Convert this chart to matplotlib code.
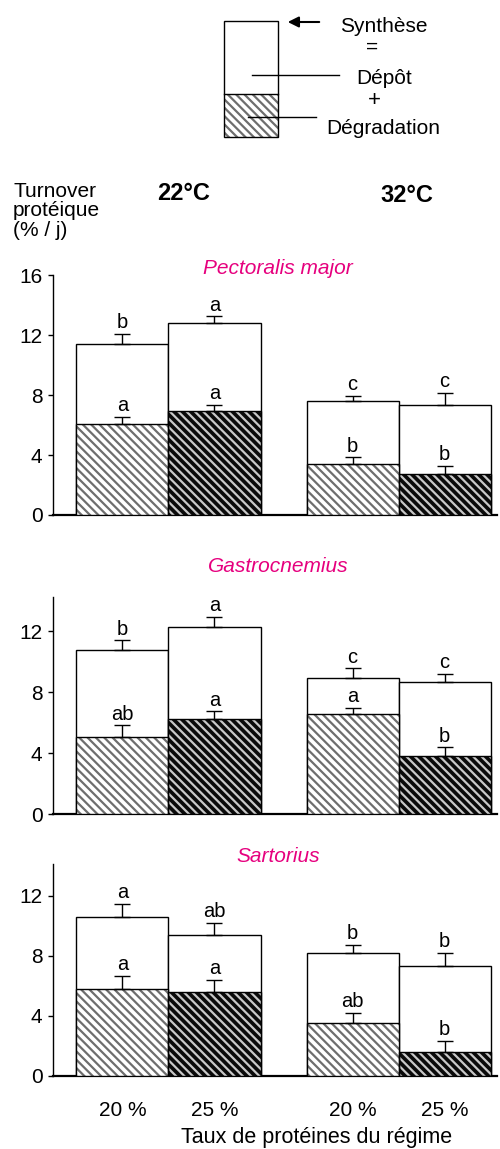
import matplotlib
matplotlib.use('Agg')
import matplotlib.pyplot as plt
from matplotlib.patches import Rectangle

plt.rcParams['font.family'] = ['Liberation Sans', 'DejaVu Sans']
plt.rcParams['hatch.linewidth'] = 1.6

# --- data (% / j) ---
muscles = ['Pectoralis major', 'Gastrocnemius', 'Sartorius']
diet_labels = ['20 %', '25 %', '20 %', '25 %']
temp_labels = ['22°C', '32°C']

synthese_pm = [11.4, 12.8, 7.6, 7.35]
synthese_pm_err = [0.7, 0.45, 0.35, 0.8]
degradation_pm = [6.05, 6.95, 3.4, 2.75]
degradation_pm_err = [0.5, 0.4, 0.45, 0.55]
letters_synth_pm = ['b', 'a', 'c', 'c']
letters_degr_pm = ['a', 'a', 'b', 'b']

synthese_gas = [10.75, 12.25, 8.95, 8.7]
synthese_gas_err = [0.65, 0.7, 0.63, 0.52]
degradation_gas = [5.1, 6.25, 6.6, 3.85]
degradation_gas_err = [0.75, 0.5, 0.4, 0.55]
letters_synth_gas = ['b', 'a', 'c', 'c']
letters_degr_gas = ['ab', 'a', 'a', 'b']

synthese_sar = [10.55, 9.4, 8.2, 7.3]
synthese_sar_err = [0.9, 0.8, 0.5, 0.9]
degradation_sar = [5.75, 5.6, 3.5, 1.55]
degradation_sar_err = [0.9, 0.8, 0.7, 0.75]
letters_synth_sar = ['a', 'ab', 'b', 'b']
letters_degr_sar = ['a', 'a', 'ab', 'b']

panels = [
    (synthese_pm, synthese_pm_err, degradation_pm, degradation_pm_err, letters_synth_pm, letters_degr_pm),
    (synthese_gas, synthese_gas_err, degradation_gas, degradation_gas_err, letters_synth_gas, letters_degr_gas),
    (synthese_sar, synthese_sar_err, degradation_sar, degradation_sar_err, letters_synth_sar, letters_degr_sar),
]

W, H = 500, 1149
MAGENTA = '#E6007E'
HATCH = '\\\\\\\\'
x_pos = [0, 1, 2.5, 3.5]
light = dict(facecolor='white', edgecolor='#6e6e6e')
dark = dict(facecolor='#0a0a0a', edgecolor='#c8c8c8')
bar_styles = [light, dark, light, dark]


def rect_px(top, bottom):
    # axes rectangle from pixel rows of the plotting area
    return [53 / W, (H - bottom) / H, 444 / W, (bottom - top) / H]


fig = plt.figure(figsize=(W / 100, H / 100), dpi=100)

axes_specs = [(275.3, 515, 16, [0, 4, 8, 12, 16]),
              (597, 814.3, 14.25, [0, 4, 8, 12]),
              (864, 1075.5, 14.1, [0, 4, 8, 12])]

for i, (top, bottom, ymax, yticks) in enumerate(axes_specs):
    synth, synth_err, degr, degr_err, let_s, let_d = panels[i]
    ax = fig.add_axes(rect_px(top, bottom))

    ax.bar(x_pos, synth, width=1.0, color='white', edgecolor='black', linewidth=1.0, zorder=2)
    for x, d, st in zip(x_pos, degr, bar_styles):
        ax.bar(x, d, width=1.0, color=st['facecolor'], edgecolor=st['edgecolor'],
               hatch=HATCH, linewidth=0, zorder=3)
    ax.bar(x_pos, degr, width=1.0, fill=False, edgecolor='black', linewidth=1.0, zorder=4)

    zero = [0] * 4
    ax.errorbar(x_pos, synth, yerr=[zero, synth_err], fmt='none', ecolor='black',
                elinewidth=1.0, capsize=5.5, capthick=1.0, zorder=5)
    ax.errorbar(x_pos, degr, yerr=[zero, degr_err], fmt='none', ecolor='black',
                elinewidth=1.0, capsize=5.5, capthick=1.0, zorder=5)

    for x, v, e, t in zip(x_pos, synth, synth_err, let_s):
        ax.annotate(t, (x, v + e), xytext=(0, 4), textcoords='offset points',
                    ha='center', va='baseline', fontsize=14.5)
    for x, v, e, t in zip(x_pos, degr, degr_err, let_d):
        ax.annotate(t, (x, v + e), xytext=(0, 4), textcoords='offset points',
                    ha='center', va='baseline', fontsize=14.5)

    ax.set_xlim(-0.755, 4.07)
    ax.set_ylim(0, ymax)
    ax.set_yticks(yticks)
    ax.tick_params(axis='y', length=3.6, width=1.0, pad=4, labelsize=15)
    ax.spines['top'].set_visible(False)
    ax.spines['right'].set_visible(False)
    ax.spines['left'].set_linewidth(1.0)
    ax.spines['bottom'].set_linewidth(1.6)
    if i == 2:
        ax.set_xticks(x_pos)
        ax.set_xticklabels(diet_labels, fontsize=15)
        ax.tick_params(axis='x', length=0, pad=18)
    else:
        ax.set_xticks([])

# overlay in pixel coordinates for titles and the schematic legend
ov = fig.add_axes([0, 0, 1, 1], zorder=10)
ov.set_xlim(0, W)
ov.set_ylim(H, 0)
ov.axis('off')
ov.patch.set_alpha(0)

ov.add_patch(Rectangle((224, 94), 54, 43, facecolor='white', edgecolor='#6e6e6e',
                       hatch=HATCH, linewidth=0))
ov.add_patch(Rectangle((224, 21), 54, 116, fill=False, edgecolor='black', linewidth=1.0))
ov.plot([224, 278], [94, 94], color='black', lw=1.0)
ov.annotate('', xy=(285, 22), xytext=(322, 22),
            arrowprops=dict(arrowstyle='-|>', color='black', lw=1.5, mutation_scale=16))
ov.plot([252, 339], [75, 75], color='black', lw=1.0)
ov.plot([248, 316], [117, 117], color='black', lw=1.0)
ov.text(384, 26, 'Synthèse', ha='center', va='center', fontsize=15)
ov.text(372, 47, '=', ha='center', va='center', fontsize=15)
ov.text(384.5, 79, 'Dépôt', ha='center', va='center', fontsize=15)
ov.text(374, 100, '+', ha='center', va='center', fontsize=16)
ov.text(383, 128, 'Dégradation', ha='center', va='center', fontsize=15)

ov.text(13, 182, 'Turnover\nprotéique\n(% / j)', ha='left', va='top', fontsize=15, linespacing=1.02)
ov.text(184, 194, temp_labels[0], ha='center', va='center', fontsize=17, fontweight='bold')
ov.text(407, 196, temp_labels[1], ha='center', va='center', fontsize=17, fontweight='bold')

for label, y in zip(muscles, [268, 566, 857]):
    ov.text(278, y, label, ha='center', va='center', fontsize=15, style='italic', color=MAGENTA)

ov.text(317, 1143, 'Taux de protéines du régime', ha='center', va='baseline', fontsize=15.5)

fig.savefig('out.png', dpi=100)
